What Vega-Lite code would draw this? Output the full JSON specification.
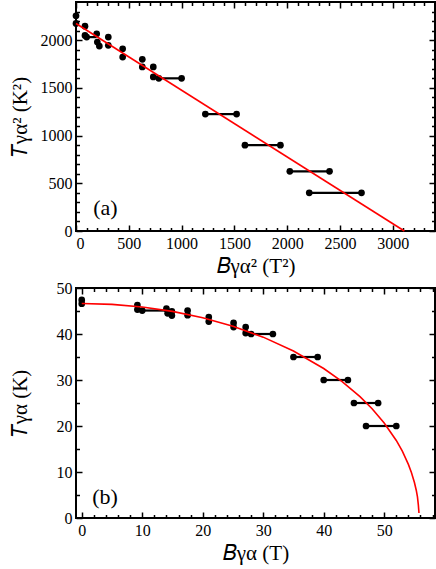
{
  "$schema": "https://vega.github.io/schema/vega-lite/v6.json",
  "padding": {"top": 0, "left": 8, "right": 1, "bottom": 3},
  "spacing": 57,
  "bounds": "flush",
  "datasets": {
    "top_pts": [
      {"B2": 0, "T2": 2256}, {"B2": 0, "T2": 2175},
      {"B2": 85, "T2": 2147}, {"B2": 85, "T2": 2050}, {"B2": 101, "T2": 2032},
      {"B2": 196, "T2": 2067}, {"B2": 202, "T2": 1980}, {"B2": 221, "T2": 1938},
      {"B2": 306, "T2": 2032}, {"B2": 306, "T2": 1946},
      {"B2": 442, "T2": 1910}, {"B2": 442, "T2": 1823},
      {"B2": 628, "T2": 1799}, {"B2": 628, "T2": 1719},
      {"B2": 732, "T2": 1719}, {"B2": 732, "T2": 1615},
      {"B2": 784, "T2": 1600}, {"B2": 1000, "T2": 1600},
      {"B2": 1225, "T2": 1225}, {"B2": 1521, "T2": 1225},
      {"B2": 1600, "T2": 900}, {"B2": 1936, "T2": 900},
      {"B2": 2025, "T2": 625}, {"B2": 2401, "T2": 625},
      {"B2": 2209, "T2": 400}, {"B2": 2704, "T2": 400}
    ],
    "top_seg": [
      {"B2a": 101, "B2b": 196, "T2": 2032},
      {"B2a": 784, "B2b": 1000, "T2": 1600},
      {"B2a": 1225, "B2b": 1521, "T2": 1225},
      {"B2a": 1600, "B2b": 1936, "T2": 900},
      {"B2a": 2025, "B2b": 2401, "T2": 625},
      {"B2a": 2209, "B2b": 2704, "T2": 400}
    ],
    "top_fit": [
      {"B2": 0, "T2": 2175}, {"B2": 3110, "T2": 0}
    ],
    "bot_pts": [
      {"B": 0, "T": 47.4}, {"B": 0, "T": 46.6},
      {"B": 9.2, "T": 46.3}, {"B": 9.2, "T": 45.3}, {"B": 10, "T": 45.1},
      {"B": 14, "T": 45.5}, {"B": 14.2, "T": 44.5}, {"B": 14.9, "T": 44.9}, {"B": 14.9, "T": 44.0},
      {"B": 17.5, "T": 45.1}, {"B": 17.5, "T": 44.1},
      {"B": 21, "T": 43.7}, {"B": 21, "T": 42.7},
      {"B": 25.1, "T": 42.4}, {"B": 25.1, "T": 41.5},
      {"B": 27.1, "T": 41.5}, {"B": 27.1, "T": 40.2},
      {"B": 28, "T": 40}, {"B": 31.6, "T": 40},
      {"B": 35, "T": 35}, {"B": 39, "T": 35},
      {"B": 40, "T": 30}, {"B": 44, "T": 30},
      {"B": 45, "T": 25}, {"B": 49, "T": 25},
      {"B": 47, "T": 20}, {"B": 52, "T": 20}
    ],
    "bot_seg": [
      {"Ba": 10, "Bb": 14, "T": 45.1},
      {"Ba": 28, "Bb": 31.6, "T": 40},
      {"Ba": 35, "Bb": 39, "T": 35},
      {"Ba": 40, "Bb": 44, "T": 30},
      {"Ba": 45, "Bb": 49, "T": 25},
      {"Ba": 47, "Bb": 52, "T": 20}
    ],
    "bot_fit": [
      {"B": 0, "T": 46.64}, {"B": 5, "T": 46.45}, {"B": 10, "T": 45.88},
      {"B": 15, "T": 44.92}, {"B": 20, "T": 43.54}, {"B": 25, "T": 41.69},
      {"B": 30, "T": 39.32}, {"B": 35, "T": 36.31}, {"B": 40, "T": 32.5},
      {"B": 43, "T": 29.7}, {"B": 46, "T": 26.37}, {"B": 48, "T": 23.75},
      {"B": 50, "T": 20.66}, {"B": 52, "T": 16.86}, {"B": 53, "T": 14.52},
      {"B": 54, "T": 11.66}, {"B": 54.5, "T": 9.9}, {"B": 55, "T": 7.72},
      {"B": 55.3, "T": 6.04}, {"B": 55.5, "T": 4.58}, {"B": 55.65, "T": 2.8},
      {"B": 55.75, "T": 1.1}
    ]
  },
  "vconcat": [
    {
      "width": 359,
      "height": 229,
      "resolve": {"axis": {"x": "independent", "y": "independent"}},
      "layer": [
        {
          "data": {"name": "top_seg"},
          "mark": {"type": "rule", "color": "black", "strokeWidth": 2.2},
          "encoding": {
            "x": {"field": "B2a", "type": "quantitative", "scale": {"domain": [0, 3400], "nice": false, "zero": false},
              "axis": {"orient": "bottom", "values": [0, 500, 1000, 1500, 2000, 2500, 3000], "format": "d", "tickSize": -6, "labelPadding": 10, "title": "𝐵γα² (T²)", "titlePadding": 4}},
            "x2": {"field": "B2b"},
            "y": {"field": "T2", "type": "quantitative", "scale": {"domain": [0, 2400], "nice": false, "zero": false},
              "axis": {"orient": "left", "values": [0, 500, 1000, 1500, 2000], "format": "d", "tickSize": -6, "labelPadding": 10, "title": "𝑇γα² (K²)", "titlePadding": 10}}
          }
        },
        {
          "data": {"name": "top_pts"},
          "mark": {"type": "circle", "color": "black", "opacity": 1, "size": 45},
          "encoding": {
            "x": {"field": "B2", "type": "quantitative",
              "axis": {"orient": "top", "values": [0, 500, 1000, 1500, 2000, 2500, 3000], "tickSize": -6, "labels": false, "title": null}},
            "y": {"field": "T2", "type": "quantitative",
              "axis": {"orient": "right", "values": [0, 500, 1000, 1500, 2000], "tickSize": -6, "labels": false, "title": null}}
          }
        },
        {
          "data": {"name": "top_fit"},
          "mark": {"type": "line", "color": "#ff0000", "strokeWidth": 1.6},
          "encoding": {
            "x": {"field": "B2", "type": "quantitative",
              "axis": {"orient": "bottom", "values": [100, 200, 300, 400, 600, 700, 800, 900, 1100, 1200, 1300, 1400, 1600, 1700, 1800, 1900, 2100, 2200, 2300, 2400, 2600, 2700, 2800, 2900, 3100, 3200, 3300], "tickSize": -3.5, "labels": false, "title": null}},
            "y": {"field": "T2", "type": "quantitative",
              "axis": {"orient": "left", "values": [100, 200, 300, 400, 600, 700, 800, 900, 1100, 1200, 1300, 1400, 1600, 1700, 1800, 1900, 2100, 2200, 2300], "tickSize": -3.5, "labels": false, "title": null}}
          }
        },
        {
          "data": {"values": [{"label": "(a)"}]},
          "mark": {"type": "text", "font": "Liberation Serif", "fontSize": 22, "color": "black", "align": "center", "baseline": "middle"},
          "encoding": {
            "text": {"field": "label"},
            "x": {"datum": 279, "type": "quantitative",
              "axis": {"orient": "top", "values": [100, 200, 300, 400, 600, 700, 800, 900, 1100, 1200, 1300, 1400, 1600, 1700, 1800, 1900, 2100, 2200, 2300, 2400, 2600, 2700, 2800, 2900, 3100, 3200, 3300], "tickSize": -3.5, "labels": false, "title": null}},
            "y": {"datum": 244, "type": "quantitative",
              "axis": {"orient": "right", "values": [100, 200, 300, 400, 600, 700, 800, 900, 1100, 1200, 1300, 1400, 1600, 1700, 1800, 1900, 2100, 2200, 2300], "tickSize": -3.5, "labels": false, "title": null}}
          }
        }
      ]
    },
    {
      "width": 359,
      "height": 230,
      "resolve": {"axis": {"x": "independent", "y": "independent"}},
      "layer": [
        {
          "data": {"name": "bot_seg"},
          "mark": {"type": "rule", "color": "black", "strokeWidth": 2.2},
          "encoding": {
            "x": {"field": "Ba", "type": "quantitative", "scale": {"domain": [-0.95, 58.4], "nice": false, "zero": false},
              "axis": {"orient": "bottom", "values": [0, 10, 20, 30, 40, 50], "format": "d", "tickSize": -6, "labelPadding": 10, "title": "𝐵γα (T)", "titlePadding": 4}},
            "x2": {"field": "Bb"},
            "y": {"field": "T", "type": "quantitative", "scale": {"domain": [0, 50], "nice": false, "zero": false},
              "axis": {"orient": "left", "values": [0, 10, 20, 30, 40, 50], "format": "d", "tickSize": -6, "labelPadding": 10, "title": "𝑇γα (K)", "titlePadding": 26}}
          }
        },
        {
          "data": {"name": "bot_pts"},
          "mark": {"type": "circle", "color": "black", "opacity": 1, "size": 45},
          "encoding": {
            "x": {"field": "B", "type": "quantitative",
              "axis": {"orient": "top", "values": [0, 10, 20, 30, 40, 50], "tickSize": -6, "labels": false, "title": null}},
            "y": {"field": "T", "type": "quantitative",
              "axis": {"orient": "right", "values": [0, 10, 20, 30, 40, 50], "tickSize": -6, "labels": false, "title": null}}
          }
        },
        {
          "data": {"name": "bot_fit"},
          "mark": {"type": "line", "color": "#ff0000", "strokeWidth": 1.6},
          "encoding": {
            "x": {"field": "B", "type": "quantitative",
              "axis": {"orient": "bottom", "values": [2, 4, 6, 8, 12, 14, 16, 18, 22, 24, 26, 28, 32, 34, 36, 38, 42, 44, 46, 48, 52, 54, 56, 58], "tickSize": -3.5, "labels": false, "title": null}},
            "y": {"field": "T", "type": "quantitative",
              "axis": {"orient": "left", "values": [5, 15, 25, 35, 45], "tickSize": -3.5, "labels": false, "title": null}}
          }
        },
        {
          "data": {"values": [{"label": "(b)"}]},
          "mark": {"type": "text", "font": "Liberation Serif", "fontSize": 22, "color": "black", "align": "center", "baseline": "middle"},
          "encoding": {
            "text": {"field": "label"},
            "x": {"datum": 3.85, "type": "quantitative",
              "axis": {"orient": "top", "values": [2, 4, 6, 8, 12, 14, 16, 18, 22, 24, 26, 28, 32, 34, 36, 38, 42, 44, 46, 48, 52, 54, 56, 58], "tickSize": -3.5, "labels": false, "title": null}},
            "y": {"datum": 4.5, "type": "quantitative",
              "axis": {"orient": "right", "values": [5, 15, 25, 35, 45], "tickSize": -3.5, "labels": false, "title": null}}
          }
        }
      ]
    }
  ],
  "config": {
    "font": "Liberation Serif",
    "view": {"stroke": "black", "strokeWidth": 2},
    "axis": {
      "domain": false,
      "grid": false,
      "tickColor": "black",
      "tickWidth": 1.5,
      "labelFont": "Liberation Serif",
      "labelFontSize": 16,
      "labelColor": "black",
      "titleFont": "Liberation Serif",
      "titleFontSize": 21,
      "titleFontWeight": "normal",
      "titleColor": "black"
    }
  }
}
